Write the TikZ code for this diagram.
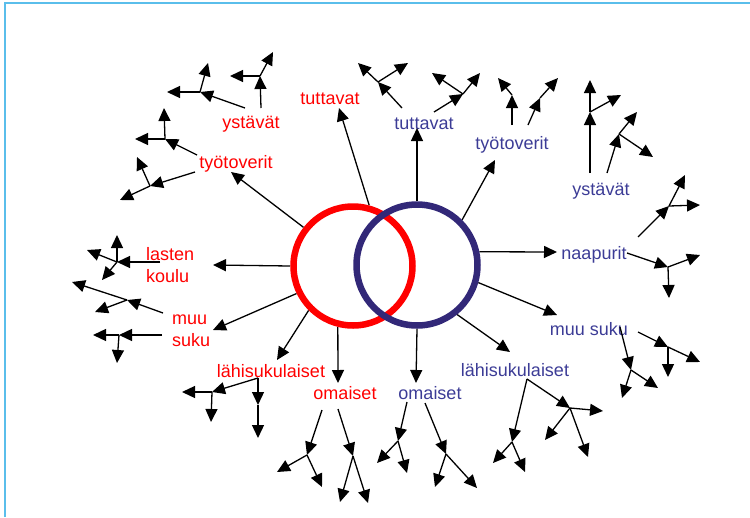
\documentclass[tikz,border=0pt]{standalone}
\usepackage{fontspec}
\setmainfont{Liberation Sans}
\usetikzlibrary{arrows.meta}
\definecolor{ringred}{RGB}{255,0,0}
\definecolor{ringblue}{RGB}{50,40,120}
\definecolor{txtblue}{RGB}{60,60,150}
\definecolor{frameblue}{RGB}{90,190,235}
\begin{document}
\begin{tikzpicture}[x=1pt,y=-1pt,
  arr/.style={line width=1.3pt,-{Triangle[length=13pt,width=12pt]}},
  lbl/.style={font=\fontsize{18}{22}\selectfont,inner sep=0pt},
  redlbl/.style={lbl,text=ringred},
  bluelbl/.style={lbl,text=txtblue},
  ring/.style={circle,line width=6.5pt,minimum size=#1,inner sep=0pt}]
\useasboundingbox (0,0) rectangle (750,517);
% frame edges
\draw[frameblue,line width=1.5pt] (5,517) -- (5,3) -- (750,3);

% the two circles of the network
\node[ring=119pt] (rc) at (353,266) {};
\node[ring=121pt] (bc) at (417,265) {};

% labels, red side
\node[redlbl] (rtut) at (330,99) {tuttavat};
\node[redlbl] (ryst) at (251,124) {ystävät};
\node[redlbl] (rtyo) at (236,164) {työtoverit};
\node[redlbl,align=left,anchor=west] (rkoulu) at (146,265) {lasten\\koulu};
\node[redlbl,align=left,anchor=west] (rsuku) at (172,331) {muu\\suku};
\node[redlbl] (rlahi) at (271,371) {lähisukulaiset};
\node[redlbl] (roma) at (345,393) {omaiset};
% labels, blue side
\node[bluelbl] (btut) at (424,124) {tuttavat};
\node[bluelbl] (btyo) at (512,145) {työtoverit};
\node[bluelbl] (byst) at (601,191) {ystävät};
\node[bluelbl] (bnaap) at (594,255) {naapurit};
\node[bluelbl] (bsuku) at (589,329) {muu suku};
\node[bluelbl] (blahi) at (515,370) {lähisukulaiset};
\node[bluelbl] (boma) at (430,393) {omaiset};

% arrow ends next to the labels
\coordinate (rtutE) at (339,108);
\coordinate (rtyoE) at (231,172);
\coordinate (rkouE) at (213,265);
\coordinate (rsukE) at (213,330);
\coordinate (rlahE) at (277,360);
\coordinate (romaE) at (338,383);
\coordinate (btutE) at (417,128);
\coordinate (btyoE) at (495,160);
\coordinate (bnaaE) at (557,252);
\coordinate (bsukE) at (557,315);
\coordinate (blahE) at (510,352);
\coordinate (bomaE) at (416,383);

% first ring of arrows from the circles
\draw[arr] (rc.75.7) -- (rtutE);
\draw[arr] (rc.142.4) -- (rtyoE);
\draw[arr] (rc.180) -- (rkouE);
\draw[arr] (rc.206.6) -- (rsukE);
\draw[arr] (rc.225.6) -- (rlahE);
\draw[arr] (rc.256) -- (romaE);
\draw[arr] (bc.90) -- (btutE);
\draw[arr] (bc.45.6) -- (btyoE);
\draw[arr] (bc.12) -- (bnaaE);
\draw[arr] (bc.-16) -- (bsukE);
\draw[arr] (bc.-51) -- (blahE);
\draw[arr] (bc.-90) -- (bomaE);

% circles on top of the line ends
\draw[ringred,line width=6.5pt] (rc.center) circle[radius=59.5];
\draw[ringblue,line width=6.5pt] (bc.center) circle[radius=60.5];

% ---- branching arrows ----
% red: ystavat
\coordinate (ry1s) at (245,108); \coordinate (ry1j) at (200,92);
\coordinate (ry1a) at (167,92);  \coordinate (ry1b) at (208,63);
\coordinate (ry2s) at (261,108); \coordinate (ry2j) at (260,76);
\coordinate (ry2a) at (230,76);  \coordinate (ry2b) at (273,52);
\draw[arr] (ry1s) -- (ry1j); \draw[arr] (ry1j) -- (ry1a); \draw[arr] (ry1j) -- (ry1b);
\draw[arr] (ry2s) -- (ry2j); \draw[arr] (ry2j) -- (ry2a); \draw[arr] (ry2j) -- (ry2b);
% red: tyotoverit
\coordinate (rt1s) at (197,155); \coordinate (rt1j) at (165,139);
\coordinate (rt1a) at (135,139); \coordinate (rt1b) at (164,108);
\coordinate (rt2s) at (195,172); \coordinate (rt2j) at (150,186);
\coordinate (rt2a) at (137,157); \coordinate (rt2b) at (120,200);
\draw[arr] (rt1s) -- (rt1j); \draw[arr] (rt1j) -- (rt1a); \draw[arr] (rt1j) -- (rt1b);
\draw[arr] (rt2s) -- (rt2j); \draw[arr] (rt2j) -- (rt2a); \draw[arr] (rt2j) -- (rt2b);
% red: lasten koulu
\coordinate (rk1s) at (160,262); \coordinate (rk1j) at (117,262);
\coordinate (rk1a) at (117,235); \coordinate (rk1b) at (87,250);
\coordinate (rk1c) at (102,280);
\draw[arr] (rk1s) -- (rk1j); \draw[arr] (rk1j) -- (rk1a);
\draw[arr] (rk1j) -- (rk1b); \draw[arr] (rk1j) -- (rk1c);
% red: muu suku
\coordinate (rs1s) at (163,313); \coordinate (rs1j) at (127,300);
\coordinate (rs1a) at (72,282);  \coordinate (rs1b) at (95,312);
\coordinate (rs2s) at (162,335); \coordinate (rs2j) at (119,335);
\coordinate (rs2a) at (93,335);  \coordinate (rs2b) at (117,363);
\draw[arr] (rs1s) -- (rs1j); \draw[arr] (rs1j) -- (rs1a); \draw[arr] (rs1j) -- (rs1b);
\draw[arr] (rs2s) -- (rs2j); \draw[arr] (rs2j) -- (rs2a); \draw[arr] (rs2j) -- (rs2b);
% red: lahisukulaiset
\coordinate (rl1s) at (258,378); \coordinate (rl1j) at (212,392);
\coordinate (rl1a) at (182,392); \coordinate (rl1b) at (211,422);
\coordinate (rl2j) at (258,405); \coordinate (rl2a) at (258,438);
\draw[arr] (rl1s) -- (rl1j); \draw[arr] (rl1j) -- (rl1a); \draw[arr] (rl1j) -- (rl1b);
\draw[arr] (rl1s) -- (rl2j); \draw[arr] (rl2j) -- (rl2a);
% red: omaiset
\coordinate (ro1s) at (322,410); \coordinate (ro1j) at (307,455);
\coordinate (ro1a) at (277,472); \coordinate (ro1b) at (322,487);
\coordinate (ro2s) at (338,409); \coordinate (ro2j) at (353,456);
\coordinate (ro2a) at (340,502); \coordinate (ro2b) at (368,503);
\draw[arr] (ro1s) -- (ro1j); \draw[arr] (ro1j) -- (ro1a); \draw[arr] (ro1j) -- (ro1b);
\draw[arr] (ro2s) -- (ro2j); \draw[arr] (ro2j) -- (ro2a); \draw[arr] (ro2j) -- (ro2b);
% blue: omaiset
\coordinate (bo1s) at (407,402); \coordinate (bo1j) at (398,441);
\coordinate (bo1a) at (377,463); \coordinate (bo1b) at (407,473);
\coordinate (bo2s) at (425,403); \coordinate (bo2j) at (446,454);
\coordinate (bo2a) at (435,487); \coordinate (bo2b) at (477,488);
\draw[arr] (bo1s) -- (bo1j); \draw[arr] (bo1j) -- (bo1a); \draw[arr] (bo1j) -- (bo1b);
\draw[arr] (bo2s) -- (bo2j); \draw[arr] (bo2j) -- (bo2a); \draw[arr] (bo2j) -- (bo2b);
% blue: lahisukulaiset
\coordinate (bl0) at (527,379);
\coordinate (bl1j) at (512,442); \coordinate (bl1a) at (493,463); \coordinate (bl1b) at (525,472);
\coordinate (bl2j) at (570,408); \coordinate (bl2a) at (603,411);
\coordinate (bl2b) at (545,440); \coordinate (bl2c) at (588,457);
\draw[arr] (bl0) -- (bl1j); \draw[arr] (bl1j) -- (bl1a); \draw[arr] (bl1j) -- (bl1b);
\draw[arr] (bl0) -- (bl2j); \draw[arr] (bl2j) -- (bl2a);
\draw[arr] (bl2j) -- (bl2b); \draw[arr] (bl2j) -- (bl2c);
% blue: muu suku
\coordinate (bs1s) at (620,327); \coordinate (bs1j) at (631,370);
\coordinate (bs1a) at (622,398); \coordinate (bs1b) at (658,388);
\coordinate (bs2s) at (638,332); \coordinate (bs2j) at (668,347);
\coordinate (bs2a) at (668,377); \coordinate (bs2b) at (700,362);
\draw[arr] (bs1s) -- (bs1j); \draw[arr] (bs1j) -- (bs1a); \draw[arr] (bs1j) -- (bs1b);
\draw[arr] (bs2s) -- (bs2j); \draw[arr] (bs2j) -- (bs2a); \draw[arr] (bs2j) -- (bs2b);
% blue: naapurit
\coordinate (bn1s) at (627,253); \coordinate (bn1j) at (668,267);
\coordinate (bn1a) at (669,298); \coordinate (bn1b) at (700,255);
\coordinate (bn2s) at (638,237); \coordinate (bn2j) at (669,206);
\coordinate (bn2a) at (685,175); \coordinate (bn2b) at (700,205);
\draw[arr] (bn1s) -- (bn1j); \draw[arr] (bn1j) -- (bn1a); \draw[arr] (bn1j) -- (bn1b);
\draw[arr] (bn2s) -- (bn2j); \draw[arr] (bn2j) -- (bn2a); \draw[arr] (bn2j) -- (bn2b);
% blue: ystavat
\coordinate (by1s) at (590,173); \coordinate (by1j) at (590,112);
\coordinate (by1a) at (590,80);  \coordinate (by1b) at (621,95);
\coordinate (by2s) at (607,173); \coordinate (by2j) at (619,134);
\coordinate (by2a) at (637,112); \coordinate (by2b) at (653,157);
\draw[arr] (by1s) -- (by1j); \draw[arr] (by1j) -- (by1a); \draw[arr] (by1j) -- (by1b);
\draw[arr] (by2s) -- (by2j); \draw[arr] (by2j) -- (by2a); \draw[arr] (by2j) -- (by2b);
% blue: tyotoverit
\coordinate (bt1s) at (512,125); \coordinate (bt1j) at (512,95); \coordinate (bt1a) at (498,78);
\coordinate (bt2s) at (528,125); \coordinate (bt2j) at (540,98); \coordinate (bt2a) at (558,78);
\draw[arr] (bt1s) -- (bt1j); \draw[arr] (bt1j) -- (bt1a);
\draw[arr] (bt2s) -- (bt2j); \draw[arr] (bt2j) -- (bt2a);
% blue: tuttavat
\coordinate (bu1s) at (402,108); \coordinate (bu1j) at (378,82);
\coordinate (bu1a) at (358,63);  \coordinate (bu1b) at (408,63);
\coordinate (bu2s) at (434,112); \coordinate (bu2j) at (463,94);
\coordinate (bu2a) at (432,73);  \coordinate (bu2b) at (480,73);
\draw[arr] (bu1s) -- (bu1j); \draw[arr] (bu1j) -- (bu1a); \draw[arr] (bu1j) -- (bu1b);
\draw[arr] (bu2s) -- (bu2j); \draw[arr] (bu2j) -- (bu2a); \draw[arr] (bu2j) -- (bu2b);
\end{tikzpicture}
\end{document}
